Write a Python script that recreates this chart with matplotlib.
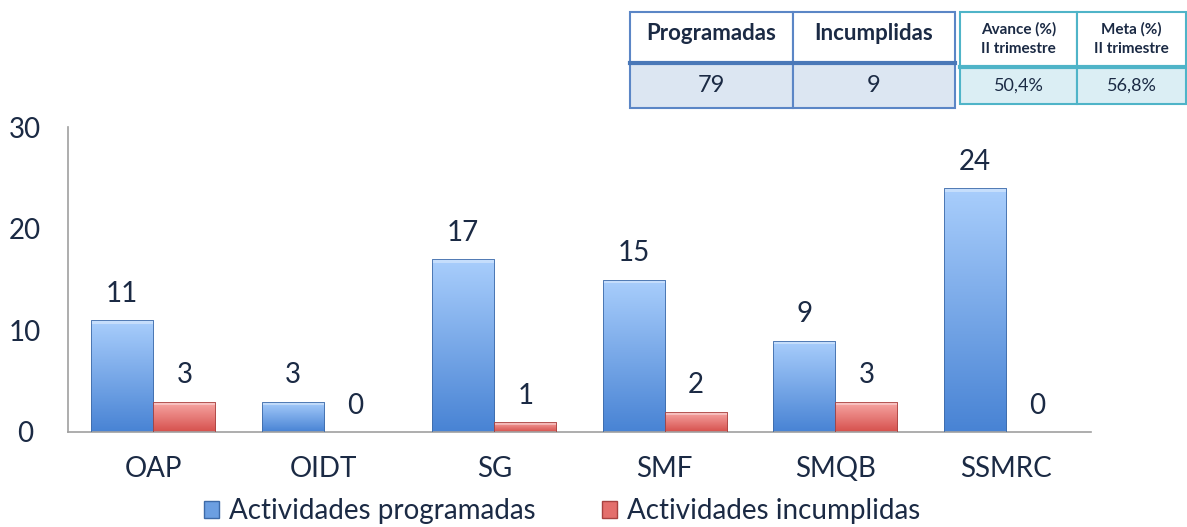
import matplotlib
matplotlib.use("Agg")
import matplotlib.pyplot as plt
import numpy as np
from matplotlib.patches import Rectangle, Patch
from matplotlib.colors import LinearSegmentedColormap

categories = ["OAP", "OIDT", "SG", "SMF", "SMQB", "SSMRC"]
programadas = [11, 3, 17, 15, 9, 24]
incumplidas = [3, 0, 1, 2, 3, 0]
series_names = ["Actividades programadas", "Actividades incumplidas"]
yticks = [0, 10, 20, 30]

tbl1_headers = ["Programadas", "Incumplidas"]
tbl1_values = ["79", "9"]
tbl2_headers = ["Avance (%)\nII trimestre", "Meta (%)\nII trimestre"]
tbl2_values = ["50,4%", "56,8%"]

plt.rcParams['font.family'] = ['Lato', 'DejaVu Sans']
txt = "#1b2a44"

fig = plt.figure(figsize=(11.87, 5.27), dpi=100)
W, H = 1187, 527
ax = fig.add_axes([68 / W, 1 - 432 / H, (1091 - 68) / W, (432 - 127) / H])

x = np.arange(len(categories))
bw = 0.365
blue_cmap = LinearSegmentedColormap.from_list("b", ["#4883d4", "#a9cefc"])
red_cmap = LinearSegmentedColormap.from_list("r", ["#d6504c", "#f8aaa8"])

b1 = ax.bar(x - bw / 2, programadas, bw, color="#7aa9e8", edgecolor="#4a78b8", linewidth=0.6, zorder=2)
b2 = ax.bar(x + bw / 2, incumplidas, bw, color="#e87a78", edgecolor="#b84a48", linewidth=0.6, zorder=2)

grad = np.linspace(0, 1, 256).reshape(-1, 1)
for bars, cm, ec in ((b1, blue_cmap, "#3d6aa8"), (b2, red_cmap, "#a84240")):
    for r in bars:
        h = r.get_height()
        if h <= 0:
            continue
        x0 = r.get_x()
        w = r.get_width()
        im = ax.imshow(grad, cmap=cm, origin="lower", aspect="auto",
                       extent=(x0, x0 + w, 0, h), zorder=2.5)
        im.set_clip_path(r)
        ax.add_patch(Rectangle((x0, h - 0.35), w, 0.35, facecolor="white", alpha=0.35,
                               edgecolor="none", zorder=2.6))
        ax.add_patch(Rectangle((x0, 0), w, h, facecolor="none", edgecolor=ec,
                               linewidth=0.6, zorder=2.7))

for bars, vals in ((b1, programadas), (b2, incumplidas)):
    for r, v in zip(bars, vals):
        ax.text(r.get_x() + r.get_width() / 2, v + 1.3, str(v), ha="center", va="bottom",
                fontsize=20, color=txt)

ax.set_xlim(-0.5, len(categories) - 0.5)
ax.set_ylim(0, 30)
ax.set_yticks(yticks)
ax.set_xticks(x)
ax.set_xticklabels(categories)
ax.tick_params(axis="both", length=0, labelsize=20, labelcolor=txt)
ax.tick_params(axis="y", pad=31)
ax.tick_params(axis="x", pad=17)
for s in ("top", "right"):
    ax.spines[s].set_visible(False)
for s in ("left", "bottom"):
    ax.spines[s].set_color("#a0a0a0")
    ax.spines[s].set_linewidth(1.2)
for lab in ax.get_yticklabels():
    lab.set_horizontalalignment("center")

handles = [Patch(facecolor="#6c9fe2", edgecolor="#3d6aa8"), Patch(facecolor="#e46f6c", edgecolor="#a84240")]
fig.legend(handles, series_names, loc="lower center", bbox_to_anchor=(562 / W, -0.042), ncol=2,
           frameon=False, fontsize=20, handlelength=0.55, handleheight=0.55, handletextpad=0.35,
           columnspacing=2.4, labelcolor=txt)

def px_rect(x0, y0, x1, y1, fc, ec, lw):
    fig.patches.append(Rectangle((x0 / W, 1 - y1 / H), (x1 - x0) / W, (y1 - y0) / H,
                                 transform=fig.transFigure, facecolor=fc, edgecolor=ec,
                                 linewidth=lw, figure=fig))

t1_cols = [630, 793, 955]
t1_rows = [12, 63, 108]
for i in range(2):
    px_rect(t1_cols[i], t1_rows[0], t1_cols[i + 1], t1_rows[1], "white", "#5b86c6", 1.5)
    px_rect(t1_cols[i], t1_rows[1], t1_cols[i + 1], t1_rows[2], "#dce6f2", "#5b86c6", 1.5)
    cx = (t1_cols[i] + t1_cols[i + 1]) / 2
    fig.text(cx / W, 1 - 33 / H, tbl1_headers[i], ha="center", va="center", fontsize=16,
             fontweight="bold", color=txt)
    fig.text(cx / W, 1 - 86 / H, tbl1_values[i], ha="center", va="center", fontsize=17, color=txt)
fig.lines.append(plt.Line2D([630 / W, 955 / W], [1 - 63 / H] * 2, transform=fig.transFigure,
                            color="#4a78b8", linewidth=3))

t2_cols = [960, 1077, 1186]
t2_rows = [12, 67, 104]
for i in range(2):
    px_rect(t2_cols[i], t2_rows[0], t2_cols[i + 1], t2_rows[1], "white", "#4fb4c8", 1.5)
    px_rect(t2_cols[i], t2_rows[1], t2_cols[i + 1], t2_rows[2], "#dbeef4", "#4fb4c8", 1.5)
    cx = (t2_cols[i] + t2_cols[i + 1]) / 2
    fig.text(cx / W, 1 - 39 / H, tbl2_headers[i], ha="center", va="center", fontsize=11,
             fontweight="bold", color=txt, linespacing=1.45)
    fig.text(cx / W, 1 - 86 / H, tbl2_values[i], ha="center", va="center", fontsize=13, color=txt)
fig.lines.append(plt.Line2D([960 / W, 1186 / W], [1 - 67 / H] * 2, transform=fig.transFigure,
                            color="#4fb4c8", linewidth=3))

fig.savefig("out.png", dpi=100)
